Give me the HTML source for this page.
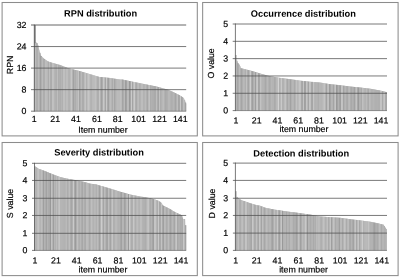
<!DOCTYPE html>
<html><head><meta charset="utf-8"><title>Distributions</title>
<style>
html,body{margin:0;padding:0;background:#fff;overflow:hidden;}
svg{display:block;font-family:"Liberation Sans",Arial,sans-serif;text-rendering:geometricPrecision;}
.t{font-weight:bold;font-size:9.28px;fill:#000;text-anchor:middle;}
.l{font-size:8.8px;fill:#000;stroke:#000;stroke-width:0.18;}
.g{stroke:#6e6e6e;stroke-width:1;fill:none;}
.b{fill:none;stroke:#8c8c8c;stroke-width:1.05;}
</style></head><body>
<svg width="400" height="278" viewBox="0 0 400 278">
<rect x="0" y="0" width="400" height="278" fill="#ffffff"/>

<g>
<rect class="b" x="2.1" y="2.5" width="195.2" height="133.4"/>
<polygon fill="#b4b4b4" points="34.3,111.2 34.3,25.1 35.3,25.1 35.4,42.1 37.5,43.3 39.0,49.7 41.0,55.8 44.0,58.8 48.0,61.4 52.0,62.8 60.0,65.0 69.0,68.4 79.6,71.1 90.2,74.2 99.3,76.9 109.8,77.9 120.0,79.6 122.5,79.6 133.8,81.9 145.0,84.2 156.3,86.5 160.1,87.5 168.1,89.8 173.2,92.1 179.2,95.1 183.2,97.6 184.7,100.1 186.2,104.0 186.2,111.2"/>
<rect x="34.30" y="25.1" width="1.04" height="86.1" fill="rgb(170,170,170)"/><rect x="35.34" y="42.4" width="1.04" height="68.8" fill="rgb(194,194,194)"/><rect x="36.38" y="43.0" width="1.04" height="68.2" fill="rgb(168,168,168)"/><rect x="37.42" y="45.2" width="1.04" height="66.0" fill="rgb(175,175,175)"/><rect x="38.46" y="49.6" width="1.04" height="61.6" fill="rgb(196,196,196)"/><rect x="39.50" y="52.8" width="1.04" height="58.4" fill="rgb(165,165,165)"/><rect x="40.54" y="55.9" width="1.04" height="55.3" fill="rgb(148,148,148)"/><rect x="41.58" y="56.9" width="1.04" height="54.3" fill="rgb(197,197,197)"/><rect x="42.62" y="57.9" width="1.04" height="53.3" fill="rgb(181,181,181)"/><rect x="43.66" y="58.9" width="1.04" height="52.3" fill="rgb(159,159,159)"/><rect x="44.70" y="59.6" width="1.04" height="51.6" fill="rgb(194,194,194)"/><rect x="45.74" y="60.3" width="1.04" height="50.9" fill="rgb(191,191,191)"/><rect x="46.78" y="60.9" width="1.04" height="50.3" fill="rgb(190,190,190)"/><rect x="47.83" y="61.5" width="1.04" height="49.7" fill="rgb(167,167,167)"/><rect x="48.87" y="61.9" width="1.04" height="49.3" fill="rgb(194,194,194)"/><rect x="49.91" y="62.2" width="1.04" height="49.0" fill="rgb(173,173,173)"/><rect x="50.95" y="62.6" width="1.04" height="48.6" fill="rgb(172,172,172)"/><rect x="51.99" y="62.9" width="1.04" height="48.3" fill="rgb(193,193,193)"/><rect x="53.03" y="63.2" width="1.04" height="48.0" fill="rgb(193,193,193)"/><rect x="54.07" y="63.5" width="1.04" height="47.7" fill="rgb(182,182,182)"/><rect x="55.11" y="63.8" width="1.04" height="47.4" fill="rgb(177,177,177)"/><rect x="56.15" y="64.1" width="1.04" height="47.1" fill="rgb(175,175,175)"/><rect x="57.19" y="64.4" width="1.04" height="46.8" fill="rgb(192,192,192)"/><rect x="58.23" y="64.7" width="1.04" height="46.5" fill="rgb(170,170,170)"/><rect x="59.27" y="64.9" width="1.04" height="46.3" fill="rgb(177,177,177)"/><rect x="60.31" y="65.3" width="1.04" height="45.9" fill="rgb(172,172,172)"/><rect x="61.35" y="65.7" width="1.04" height="45.5" fill="rgb(183,183,183)"/><rect x="62.39" y="66.1" width="1.04" height="45.1" fill="rgb(174,174,174)"/><rect x="63.43" y="66.5" width="1.04" height="44.7" fill="rgb(201,201,201)"/><rect x="64.47" y="66.9" width="1.04" height="44.3" fill="rgb(192,192,192)"/><rect x="65.51" y="67.3" width="1.04" height="43.9" fill="rgb(176,176,176)"/><rect x="66.55" y="67.7" width="1.04" height="43.5" fill="rgb(204,204,204)"/><rect x="67.59" y="68.1" width="1.04" height="43.1" fill="rgb(182,182,182)"/><rect x="68.63" y="68.4" width="1.04" height="42.8" fill="rgb(178,178,178)"/><rect x="69.67" y="68.7" width="1.04" height="42.5" fill="rgb(177,177,177)"/><rect x="70.71" y="69.0" width="1.04" height="42.2" fill="rgb(209,209,209)"/><rect x="71.75" y="69.2" width="1.04" height="42.0" fill="rgb(187,187,187)"/><rect x="72.80" y="69.5" width="1.04" height="41.7" fill="rgb(155,155,155)"/><rect x="73.84" y="69.8" width="1.04" height="41.4" fill="rgb(177,177,177)"/><rect x="74.88" y="70.0" width="1.04" height="41.2" fill="rgb(171,171,171)"/><rect x="75.92" y="70.3" width="1.04" height="40.9" fill="rgb(184,184,184)"/><rect x="76.96" y="70.6" width="1.04" height="40.6" fill="rgb(182,182,182)"/><rect x="78.00" y="70.8" width="1.04" height="40.4" fill="rgb(195,195,195)"/><rect x="79.04" y="71.1" width="1.04" height="40.1" fill="rgb(162,162,162)"/><rect x="80.08" y="71.4" width="1.04" height="39.8" fill="rgb(175,175,175)"/><rect x="81.12" y="71.7" width="1.04" height="39.5" fill="rgb(188,188,188)"/><rect x="82.16" y="72.0" width="1.04" height="39.2" fill="rgb(171,171,171)"/><rect x="83.20" y="72.3" width="1.04" height="38.9" fill="rgb(171,171,171)"/><rect x="84.24" y="72.6" width="1.04" height="38.6" fill="rgb(191,191,191)"/><rect x="85.28" y="72.9" width="1.04" height="38.3" fill="rgb(202,202,202)"/><rect x="86.32" y="73.2" width="1.04" height="38.0" fill="rgb(174,174,174)"/><rect x="87.36" y="73.5" width="1.04" height="37.7" fill="rgb(196,196,196)"/><rect x="88.40" y="73.8" width="1.04" height="37.4" fill="rgb(206,206,206)"/><rect x="89.44" y="74.1" width="1.04" height="37.1" fill="rgb(191,191,191)"/><rect x="90.48" y="74.4" width="1.04" height="36.8" fill="rgb(177,177,177)"/><rect x="91.52" y="74.7" width="1.04" height="36.5" fill="rgb(178,178,178)"/><rect x="92.56" y="75.1" width="1.04" height="36.1" fill="rgb(196,196,196)"/><rect x="93.60" y="75.4" width="1.04" height="35.8" fill="rgb(184,184,184)"/><rect x="94.64" y="75.7" width="1.04" height="35.5" fill="rgb(200,200,200)"/><rect x="95.68" y="76.0" width="1.04" height="35.2" fill="rgb(193,193,193)"/><rect x="96.72" y="76.3" width="1.04" height="34.9" fill="rgb(177,177,177)"/><rect x="97.77" y="76.6" width="1.04" height="34.6" fill="rgb(164,164,164)"/><rect x="98.81" y="76.9" width="1.04" height="34.3" fill="rgb(205,205,205)"/><rect x="99.85" y="77.0" width="1.04" height="34.2" fill="rgb(180,180,180)"/><rect x="100.89" y="77.1" width="1.04" height="34.1" fill="rgb(160,160,160)"/><rect x="101.93" y="77.2" width="1.04" height="34.0" fill="rgb(172,172,172)"/><rect x="102.97" y="77.3" width="1.04" height="33.9" fill="rgb(200,200,200)"/><rect x="104.01" y="77.4" width="1.04" height="33.8" fill="rgb(186,186,186)"/><rect x="105.05" y="77.5" width="1.04" height="33.7" fill="rgb(164,164,164)"/><rect x="106.09" y="77.6" width="1.04" height="33.6" fill="rgb(203,203,203)"/><rect x="107.13" y="77.7" width="1.04" height="33.5" fill="rgb(169,169,169)"/><rect x="108.17" y="77.8" width="1.04" height="33.4" fill="rgb(157,157,157)"/><rect x="109.21" y="77.9" width="1.04" height="33.3" fill="rgb(183,183,183)"/><rect x="110.25" y="78.1" width="1.04" height="33.1" fill="rgb(192,192,192)"/><rect x="111.29" y="78.2" width="1.04" height="33.0" fill="rgb(181,181,181)"/><rect x="112.33" y="78.4" width="1.04" height="32.8" fill="rgb(167,167,167)"/><rect x="113.37" y="78.6" width="1.04" height="32.6" fill="rgb(194,194,194)"/><rect x="114.41" y="78.8" width="1.04" height="32.4" fill="rgb(152,152,152)"/><rect x="115.45" y="78.9" width="1.04" height="32.3" fill="rgb(183,183,183)"/><rect x="116.49" y="79.1" width="1.04" height="32.1" fill="rgb(186,186,186)"/><rect x="117.53" y="79.3" width="1.04" height="31.9" fill="rgb(192,192,192)"/><rect x="118.57" y="79.4" width="1.04" height="31.8" fill="rgb(186,186,186)"/><rect x="119.61" y="79.6" width="1.04" height="31.6" fill="rgb(188,188,188)"/><rect x="120.65" y="79.6" width="1.04" height="31.6" fill="rgb(205,205,205)"/><rect x="121.69" y="79.6" width="1.04" height="31.6" fill="rgb(160,160,160)"/><rect x="122.73" y="79.8" width="1.04" height="31.4" fill="rgb(163,163,163)"/><rect x="123.78" y="80.0" width="1.04" height="31.2" fill="rgb(196,196,196)"/><rect x="124.82" y="80.2" width="1.04" height="31.0" fill="rgb(155,155,155)"/><rect x="125.86" y="80.4" width="1.04" height="30.8" fill="rgb(159,159,159)"/><rect x="126.90" y="80.6" width="1.04" height="30.6" fill="rgb(188,188,188)"/><rect x="127.94" y="80.8" width="1.04" height="30.4" fill="rgb(186,186,186)"/><rect x="128.98" y="81.0" width="1.04" height="30.2" fill="rgb(153,153,153)"/><rect x="130.02" y="81.2" width="1.04" height="30.0" fill="rgb(167,167,167)"/><rect x="131.06" y="81.4" width="1.04" height="29.8" fill="rgb(204,204,204)"/><rect x="132.10" y="81.7" width="1.04" height="29.5" fill="rgb(162,162,162)"/><rect x="133.14" y="81.9" width="1.04" height="29.3" fill="rgb(192,192,192)"/><rect x="134.18" y="82.1" width="1.04" height="29.1" fill="rgb(208,208,208)"/><rect x="135.22" y="82.3" width="1.04" height="28.9" fill="rgb(172,172,172)"/><rect x="136.26" y="82.5" width="1.04" height="28.7" fill="rgb(166,166,166)"/><rect x="137.30" y="82.7" width="1.04" height="28.5" fill="rgb(189,189,189)"/><rect x="138.34" y="82.9" width="1.04" height="28.3" fill="rgb(192,192,192)"/><rect x="139.38" y="83.2" width="1.04" height="28.0" fill="rgb(171,171,171)"/><rect x="140.42" y="83.4" width="1.04" height="27.8" fill="rgb(182,182,182)"/><rect x="141.46" y="83.6" width="1.04" height="27.6" fill="rgb(197,197,197)"/><rect x="142.50" y="83.8" width="1.04" height="27.4" fill="rgb(189,189,189)"/><rect x="143.54" y="84.0" width="1.04" height="27.2" fill="rgb(171,171,171)"/><rect x="144.58" y="84.2" width="1.04" height="27.0" fill="rgb(189,189,189)"/><rect x="145.62" y="84.4" width="1.04" height="26.8" fill="rgb(190,190,190)"/><rect x="146.66" y="84.6" width="1.04" height="26.6" fill="rgb(157,157,157)"/><rect x="147.70" y="84.9" width="1.04" height="26.3" fill="rgb(177,177,177)"/><rect x="148.75" y="85.1" width="1.04" height="26.1" fill="rgb(208,208,208)"/><rect x="149.79" y="85.3" width="1.04" height="25.9" fill="rgb(170,170,170)"/><rect x="150.83" y="85.5" width="1.04" height="25.7" fill="rgb(177,177,177)"/><rect x="151.87" y="85.7" width="1.04" height="25.5" fill="rgb(174,174,174)"/><rect x="152.91" y="85.9" width="1.04" height="25.3" fill="rgb(174,174,174)"/><rect x="153.95" y="86.1" width="1.04" height="25.1" fill="rgb(171,171,171)"/><rect x="154.99" y="86.3" width="1.04" height="24.9" fill="rgb(170,170,170)"/><rect x="156.03" y="86.6" width="1.04" height="24.6" fill="rgb(191,191,191)"/><rect x="157.07" y="86.8" width="1.04" height="24.4" fill="rgb(172,172,172)"/><rect x="158.11" y="87.1" width="1.04" height="24.1" fill="rgb(163,163,163)"/><rect x="159.15" y="87.4" width="1.04" height="23.8" fill="rgb(197,197,197)"/><rect x="160.19" y="87.7" width="1.04" height="23.5" fill="rgb(171,171,171)"/><rect x="161.23" y="88.0" width="1.04" height="23.2" fill="rgb(178,178,178)"/><rect x="162.27" y="88.3" width="1.04" height="22.9" fill="rgb(186,186,186)"/><rect x="163.31" y="88.6" width="1.04" height="22.6" fill="rgb(190,190,190)"/><rect x="164.35" y="88.9" width="1.04" height="22.3" fill="rgb(176,176,176)"/><rect x="165.39" y="89.2" width="1.04" height="22.0" fill="rgb(166,166,166)"/><rect x="166.43" y="89.5" width="1.04" height="21.7" fill="rgb(173,173,173)"/><rect x="167.47" y="89.8" width="1.04" height="21.4" fill="rgb(176,176,176)"/><rect x="168.51" y="90.2" width="1.04" height="21.0" fill="rgb(192,192,192)"/><rect x="169.55" y="90.7" width="1.04" height="20.5" fill="rgb(183,183,183)"/><rect x="170.59" y="91.2" width="1.04" height="20.0" fill="rgb(175,175,175)"/><rect x="171.63" y="91.6" width="1.04" height="19.6" fill="rgb(171,171,171)"/><rect x="172.67" y="92.1" width="1.04" height="19.1" fill="rgb(181,181,181)"/><rect x="173.72" y="92.6" width="1.04" height="18.6" fill="rgb(181,181,181)"/><rect x="174.76" y="93.1" width="1.04" height="18.1" fill="rgb(160,160,160)"/><rect x="175.80" y="93.7" width="1.04" height="17.5" fill="rgb(175,175,175)"/><rect x="176.84" y="94.2" width="1.04" height="17.0" fill="rgb(196,196,196)"/><rect x="177.88" y="94.7" width="1.04" height="16.5" fill="rgb(165,165,165)"/><rect x="178.92" y="95.2" width="1.04" height="16.0" fill="rgb(166,166,166)"/><rect x="179.96" y="95.9" width="1.04" height="15.3" fill="rgb(201,201,201)"/><rect x="181.00" y="96.5" width="1.04" height="14.7" fill="rgb(164,164,164)"/><rect x="182.04" y="97.2" width="1.04" height="14.0" fill="rgb(169,169,169)"/><rect x="183.08" y="98.3" width="1.04" height="12.9" fill="rgb(193,193,193)"/><rect x="184.12" y="100.0" width="1.04" height="11.2" fill="rgb(183,183,183)"/><rect x="185.16" y="102.6" width="1.04" height="8.6" fill="rgb(159,159,159)"/>
<rect x="34.6" y="25.2" width="1.0" height="18" fill="#858585"/>
<line x1="31.0" y1="25.00" x2="186.2" y2="25.00" stroke="#4d4d4d" stroke-width="1" opacity="0.85"/>
<line x1="31.0" y1="46.55" x2="186.2" y2="46.55" stroke="#4d4d4d" stroke-width="1" opacity="0.75"/>
<line x1="31.0" y1="68.10" x2="186.2" y2="68.10" stroke="#4d4d4d" stroke-width="1" opacity="0.75"/>
<line x1="31.0" y1="89.65" x2="186.2" y2="89.65" stroke="#4d4d4d" stroke-width="1" opacity="0.75"/>
<line x1="31.0" y1="111.20" x2="34.3" y2="111.20" stroke="#4d4d4d" stroke-width="1" opacity="0.72"/>
<line x1="34.3" y1="111.20" x2="186.2" y2="111.20" stroke="#4d4d4d" stroke-width="1" opacity="0.5"/>
<line x1="34.3" y1="24.5" x2="34.3" y2="111.7" stroke="#4d4d4d" stroke-width="1" opacity="0.75"/>
<text class="l" text-anchor="middle" transform="translate(12.6,64.9) rotate(-90)">RPN</text>
</g>
<g>
<rect class="b" x="202.65" y="2.5" width="195.45" height="133.4"/>
<polygon fill="#b4b4b4" points="235.4,110.6 235.4,55.1 236.6,55.1 236.7,60.1 238.0,63.1 239.7,65.2 241.0,68.2 245.0,69.2 250.2,70.6 256.2,72.2 260.2,73.6 266.3,75.2 270.3,76.2 280.4,77.9 290.5,79.3 300.6,80.7 310.0,81.7 320.0,82.6 330.2,84.2 340.2,85.2 350.3,86.6 360.4,87.6 370.5,88.8 378.5,90.2 383.6,91.2 386.8,92.3 386.8,110.6"/>
<rect x="235.40" y="55.1" width="1.04" height="55.5" fill="rgb(202,202,202)"/><rect x="236.44" y="60.7" width="1.04" height="49.9" fill="rgb(173,173,173)"/><rect x="237.48" y="63.1" width="1.04" height="47.5" fill="rgb(155,155,155)"/><rect x="238.52" y="64.4" width="1.04" height="46.2" fill="rgb(180,180,180)"/><rect x="239.55" y="66.1" width="1.04" height="44.5" fill="rgb(198,198,198)"/><rect x="240.59" y="68.2" width="1.04" height="42.4" fill="rgb(155,155,155)"/><rect x="241.63" y="68.5" width="1.04" height="42.1" fill="rgb(167,167,167)"/><rect x="242.67" y="68.7" width="1.04" height="41.9" fill="rgb(186,186,186)"/><rect x="243.71" y="69.0" width="1.04" height="41.6" fill="rgb(191,191,191)"/><rect x="244.75" y="69.3" width="1.04" height="41.3" fill="rgb(165,165,165)"/><rect x="245.78" y="69.6" width="1.04" height="41.0" fill="rgb(201,201,201)"/><rect x="246.82" y="69.8" width="1.04" height="40.8" fill="rgb(175,175,175)"/><rect x="247.86" y="70.1" width="1.04" height="40.5" fill="rgb(161,161,161)"/><rect x="248.90" y="70.4" width="1.04" height="40.2" fill="rgb(184,184,184)"/><rect x="249.94" y="70.7" width="1.04" height="39.9" fill="rgb(207,207,207)"/><rect x="250.98" y="70.9" width="1.04" height="39.7" fill="rgb(172,172,172)"/><rect x="252.01" y="71.2" width="1.04" height="39.4" fill="rgb(159,159,159)"/><rect x="253.05" y="71.5" width="1.04" height="39.1" fill="rgb(176,176,176)"/><rect x="254.09" y="71.8" width="1.04" height="38.8" fill="rgb(184,184,184)"/><rect x="255.13" y="72.1" width="1.04" height="38.5" fill="rgb(155,155,155)"/><rect x="256.17" y="72.4" width="1.04" height="38.2" fill="rgb(195,195,195)"/><rect x="257.21" y="72.7" width="1.04" height="37.9" fill="rgb(204,204,204)"/><rect x="258.24" y="73.1" width="1.04" height="37.5" fill="rgb(158,158,158)"/><rect x="259.28" y="73.5" width="1.04" height="37.1" fill="rgb(165,165,165)"/><rect x="260.32" y="73.8" width="1.04" height="36.8" fill="rgb(204,204,204)"/><rect x="261.36" y="74.0" width="1.04" height="36.6" fill="rgb(184,184,184)"/><rect x="262.40" y="74.3" width="1.04" height="36.3" fill="rgb(179,179,179)"/><rect x="263.44" y="74.6" width="1.04" height="36.0" fill="rgb(181,181,181)"/><rect x="264.47" y="74.9" width="1.04" height="35.7" fill="rgb(173,173,173)"/><rect x="265.51" y="75.1" width="1.04" height="35.5" fill="rgb(160,160,160)"/><rect x="266.55" y="75.4" width="1.04" height="35.2" fill="rgb(189,189,189)"/><rect x="267.59" y="75.7" width="1.04" height="34.9" fill="rgb(184,184,184)"/><rect x="268.63" y="75.9" width="1.04" height="34.7" fill="rgb(168,168,168)"/><rect x="269.67" y="76.2" width="1.04" height="34.4" fill="rgb(167,167,167)"/><rect x="270.70" y="76.4" width="1.04" height="34.2" fill="rgb(187,187,187)"/><rect x="271.74" y="76.6" width="1.04" height="34.0" fill="rgb(180,180,180)"/><rect x="272.78" y="76.7" width="1.04" height="33.9" fill="rgb(182,182,182)"/><rect x="273.82" y="76.9" width="1.04" height="33.7" fill="rgb(170,170,170)"/><rect x="274.86" y="77.1" width="1.04" height="33.5" fill="rgb(172,172,172)"/><rect x="275.90" y="77.2" width="1.04" height="33.4" fill="rgb(187,187,187)"/><rect x="276.93" y="77.4" width="1.04" height="33.2" fill="rgb(188,188,188)"/><rect x="277.97" y="77.6" width="1.04" height="33.0" fill="rgb(211,211,211)"/><rect x="279.01" y="77.8" width="1.04" height="32.8" fill="rgb(176,176,176)"/><rect x="280.05" y="77.9" width="1.04" height="32.7" fill="rgb(184,184,184)"/><rect x="281.09" y="78.1" width="1.04" height="32.5" fill="rgb(203,203,203)"/><rect x="282.13" y="78.2" width="1.04" height="32.4" fill="rgb(177,177,177)"/><rect x="283.16" y="78.4" width="1.04" height="32.2" fill="rgb(177,177,177)"/><rect x="284.20" y="78.5" width="1.04" height="32.1" fill="rgb(191,191,191)"/><rect x="285.24" y="78.6" width="1.04" height="32.0" fill="rgb(199,199,199)"/><rect x="286.28" y="78.8" width="1.04" height="31.8" fill="rgb(175,175,175)"/><rect x="287.32" y="78.9" width="1.04" height="31.7" fill="rgb(162,162,162)"/><rect x="288.36" y="79.1" width="1.04" height="31.5" fill="rgb(184,184,184)"/><rect x="289.39" y="79.2" width="1.04" height="31.4" fill="rgb(173,173,173)"/><rect x="290.43" y="79.4" width="1.04" height="31.2" fill="rgb(150,150,150)"/><rect x="291.47" y="79.5" width="1.04" height="31.1" fill="rgb(186,186,186)"/><rect x="292.51" y="79.7" width="1.04" height="30.9" fill="rgb(183,183,183)"/><rect x="293.55" y="79.8" width="1.04" height="30.8" fill="rgb(182,182,182)"/><rect x="294.59" y="79.9" width="1.04" height="30.7" fill="rgb(156,156,156)"/><rect x="295.62" y="80.1" width="1.04" height="30.5" fill="rgb(208,208,208)"/><rect x="296.66" y="80.2" width="1.04" height="30.4" fill="rgb(186,186,186)"/><rect x="297.70" y="80.4" width="1.04" height="30.2" fill="rgb(183,183,183)"/><rect x="298.74" y="80.5" width="1.04" height="30.1" fill="rgb(202,202,202)"/><rect x="299.78" y="80.7" width="1.04" height="29.9" fill="rgb(203,203,203)"/><rect x="300.82" y="80.8" width="1.04" height="29.8" fill="rgb(170,170,170)"/><rect x="301.85" y="80.9" width="1.04" height="29.7" fill="rgb(160,160,160)"/><rect x="302.89" y="81.0" width="1.04" height="29.6" fill="rgb(202,202,202)"/><rect x="303.93" y="81.1" width="1.04" height="29.5" fill="rgb(161,161,161)"/><rect x="304.97" y="81.2" width="1.04" height="29.4" fill="rgb(162,162,162)"/><rect x="306.01" y="81.3" width="1.04" height="29.3" fill="rgb(197,197,197)"/><rect x="307.05" y="81.4" width="1.04" height="29.2" fill="rgb(184,184,184)"/><rect x="308.08" y="81.6" width="1.04" height="29.0" fill="rgb(163,163,163)"/><rect x="309.12" y="81.7" width="1.04" height="28.9" fill="rgb(200,200,200)"/><rect x="310.16" y="81.8" width="1.04" height="28.8" fill="rgb(195,195,195)"/><rect x="311.20" y="81.9" width="1.04" height="28.7" fill="rgb(164,164,164)"/><rect x="312.24" y="81.9" width="1.04" height="28.7" fill="rgb(164,164,164)"/><rect x="313.28" y="82.0" width="1.04" height="28.6" fill="rgb(206,206,206)"/><rect x="314.32" y="82.1" width="1.04" height="28.5" fill="rgb(178,178,178)"/><rect x="315.35" y="82.2" width="1.04" height="28.4" fill="rgb(178,178,178)"/><rect x="316.39" y="82.3" width="1.04" height="28.3" fill="rgb(182,182,182)"/><rect x="317.43" y="82.4" width="1.04" height="28.2" fill="rgb(176,176,176)"/><rect x="318.47" y="82.5" width="1.04" height="28.1" fill="rgb(169,169,169)"/><rect x="319.51" y="82.6" width="1.04" height="28.0" fill="rgb(190,190,190)"/><rect x="320.55" y="82.8" width="1.04" height="27.8" fill="rgb(180,180,180)"/><rect x="321.58" y="82.9" width="1.04" height="27.7" fill="rgb(185,185,185)"/><rect x="322.62" y="83.1" width="1.04" height="27.5" fill="rgb(186,186,186)"/><rect x="323.66" y="83.3" width="1.04" height="27.3" fill="rgb(202,202,202)"/><rect x="324.70" y="83.4" width="1.04" height="27.2" fill="rgb(196,196,196)"/><rect x="325.74" y="83.6" width="1.04" height="27.0" fill="rgb(148,148,148)"/><rect x="326.78" y="83.7" width="1.04" height="26.9" fill="rgb(188,188,188)"/><rect x="327.81" y="83.9" width="1.04" height="26.7" fill="rgb(204,204,204)"/><rect x="328.85" y="84.1" width="1.04" height="26.5" fill="rgb(153,153,153)"/><rect x="329.89" y="84.2" width="1.04" height="26.4" fill="rgb(165,165,165)"/><rect x="330.93" y="84.3" width="1.04" height="26.3" fill="rgb(183,183,183)"/><rect x="331.97" y="84.4" width="1.04" height="26.2" fill="rgb(180,180,180)"/><rect x="333.01" y="84.5" width="1.04" height="26.1" fill="rgb(164,164,164)"/><rect x="334.04" y="84.6" width="1.04" height="26.0" fill="rgb(186,186,186)"/><rect x="335.08" y="84.7" width="1.04" height="25.9" fill="rgb(198,198,198)"/><rect x="336.12" y="84.8" width="1.04" height="25.8" fill="rgb(149,149,149)"/><rect x="337.16" y="84.9" width="1.04" height="25.7" fill="rgb(161,161,161)"/><rect x="338.20" y="85.1" width="1.04" height="25.5" fill="rgb(178,178,178)"/><rect x="339.24" y="85.2" width="1.04" height="25.4" fill="rgb(160,160,160)"/><rect x="340.27" y="85.3" width="1.04" height="25.3" fill="rgb(153,153,153)"/><rect x="341.31" y="85.4" width="1.04" height="25.2" fill="rgb(208,208,208)"/><rect x="342.35" y="85.6" width="1.04" height="25.0" fill="rgb(197,197,197)"/><rect x="343.39" y="85.7" width="1.04" height="24.9" fill="rgb(151,151,151)"/><rect x="344.43" y="85.9" width="1.04" height="24.7" fill="rgb(183,183,183)"/><rect x="345.47" y="86.0" width="1.04" height="24.6" fill="rgb(184,184,184)"/><rect x="346.50" y="86.1" width="1.04" height="24.5" fill="rgb(163,163,163)"/><rect x="347.54" y="86.3" width="1.04" height="24.3" fill="rgb(168,168,168)"/><rect x="348.58" y="86.4" width="1.04" height="24.2" fill="rgb(198,198,198)"/><rect x="349.62" y="86.6" width="1.04" height="24.0" fill="rgb(182,182,182)"/><rect x="350.66" y="86.7" width="1.04" height="23.9" fill="rgb(162,162,162)"/><rect x="351.70" y="86.8" width="1.04" height="23.8" fill="rgb(175,175,175)"/><rect x="352.73" y="86.9" width="1.04" height="23.7" fill="rgb(181,181,181)"/><rect x="353.77" y="87.0" width="1.04" height="23.6" fill="rgb(153,153,153)"/><rect x="354.81" y="87.1" width="1.04" height="23.5" fill="rgb(180,180,180)"/><rect x="355.85" y="87.2" width="1.04" height="23.4" fill="rgb(201,201,201)"/><rect x="356.89" y="87.3" width="1.04" height="23.3" fill="rgb(169,169,169)"/><rect x="357.93" y="87.4" width="1.04" height="23.2" fill="rgb(154,154,154)"/><rect x="358.96" y="87.5" width="1.04" height="23.1" fill="rgb(178,178,178)"/><rect x="360.00" y="87.6" width="1.04" height="23.0" fill="rgb(178,178,178)"/><rect x="361.04" y="87.7" width="1.04" height="22.9" fill="rgb(170,170,170)"/><rect x="362.08" y="87.9" width="1.04" height="22.7" fill="rgb(194,194,194)"/><rect x="363.12" y="88.0" width="1.04" height="22.6" fill="rgb(186,186,186)"/><rect x="364.16" y="88.1" width="1.04" height="22.5" fill="rgb(181,181,181)"/><rect x="365.19" y="88.2" width="1.04" height="22.4" fill="rgb(178,178,178)"/><rect x="366.23" y="88.4" width="1.04" height="22.2" fill="rgb(190,190,190)"/><rect x="367.27" y="88.5" width="1.04" height="22.1" fill="rgb(174,174,174)"/><rect x="368.31" y="88.6" width="1.04" height="22.0" fill="rgb(167,167,167)"/><rect x="369.35" y="88.7" width="1.04" height="21.9" fill="rgb(195,195,195)"/><rect x="370.39" y="88.9" width="1.04" height="21.7" fill="rgb(184,184,184)"/><rect x="371.42" y="89.1" width="1.04" height="21.5" fill="rgb(175,175,175)"/><rect x="372.46" y="89.2" width="1.04" height="21.4" fill="rgb(177,177,177)"/><rect x="373.50" y="89.4" width="1.04" height="21.2" fill="rgb(183,183,183)"/><rect x="374.54" y="89.6" width="1.04" height="21.0" fill="rgb(175,175,175)"/><rect x="375.58" y="89.8" width="1.04" height="20.8" fill="rgb(177,177,177)"/><rect x="376.62" y="90.0" width="1.04" height="20.6" fill="rgb(174,174,174)"/><rect x="377.65" y="90.1" width="1.04" height="20.5" fill="rgb(180,180,180)"/><rect x="378.69" y="90.3" width="1.04" height="20.3" fill="rgb(164,164,164)"/><rect x="379.73" y="90.6" width="1.04" height="20.0" fill="rgb(197,197,197)"/><rect x="380.77" y="90.8" width="1.04" height="19.8" fill="rgb(207,207,207)"/><rect x="381.81" y="91.0" width="1.04" height="19.6" fill="rgb(165,165,165)"/><rect x="382.85" y="91.2" width="1.04" height="19.4" fill="rgb(189,189,189)"/><rect x="383.88" y="91.5" width="1.04" height="19.1" fill="rgb(203,203,203)"/><rect x="384.92" y="91.9" width="1.04" height="18.7" fill="rgb(169,169,169)"/><rect x="385.96" y="92.2" width="1.04" height="18.4" fill="rgb(166,166,166)"/>
<line x1="232.7" y1="24.00" x2="387.0" y2="24.00" stroke="#4d4d4d" stroke-width="1" opacity="0.75"/>
<line x1="232.7" y1="41.32" x2="387.0" y2="41.32" stroke="#4d4d4d" stroke-width="1" opacity="0.75"/>
<line x1="232.7" y1="58.64" x2="387.0" y2="58.64" stroke="#4d4d4d" stroke-width="1" opacity="0.75"/>
<line x1="232.7" y1="75.96" x2="387.0" y2="75.96" stroke="#4d4d4d" stroke-width="1" opacity="0.75"/>
<line x1="232.7" y1="93.28" x2="387.0" y2="93.28" stroke="#4d4d4d" stroke-width="1" opacity="0.75"/>
<line x1="232.7" y1="110.60" x2="235.4" y2="110.60" stroke="#4d4d4d" stroke-width="1" opacity="0.72"/>
<line x1="235.4" y1="110.60" x2="387.0" y2="110.60" stroke="#4d4d4d" stroke-width="1" opacity="0.5"/>
<line x1="235.4" y1="23.5" x2="235.4" y2="111.1" stroke="#4d4d4d" stroke-width="1" opacity="0.75"/>
<text class="l" text-anchor="middle" transform="translate(214.3,63.4) rotate(-90)">O value</text>
</g>
<g>
<rect class="b" x="2.1" y="142.5" width="195.2" height="133.1"/>
<polygon fill="#b4b4b4" points="34.5,250.4 34.5,166.5 35.5,166.5 38.0,168.6 42.1,170.0 46.1,171.6 50.2,173.2 55.2,175.2 60.2,177.1 65.3,178.3 70.3,179.3 75.4,180.1 80.4,181.1 85.4,182.3 90.5,183.7 95.5,184.3 100.6,185.8 105.6,187.2 110.0,188.5 115.0,190.1 120.1,191.7 125.1,193.1 130.2,194.6 135.2,195.6 140.2,196.6 145.3,197.2 150.3,198.2 155.0,199.5 159.0,201.0 161.0,202.6 163.1,205.6 167.1,207.6 170.1,209.1 173.1,211.1 176.4,212.8 180.2,214.5 182.4,215.5 182.7,219.1 185.0,219.1 185.2,225.2 186.2,225.2 186.2,250.4"/>
<rect x="34.50" y="166.5" width="1.04" height="83.9" fill="rgb(177,177,177)"/><rect x="35.54" y="167.0" width="1.04" height="83.4" fill="rgb(183,183,183)"/><rect x="36.58" y="167.8" width="1.04" height="82.6" fill="rgb(178,178,178)"/><rect x="37.62" y="168.6" width="1.04" height="81.8" fill="rgb(207,207,207)"/><rect x="38.66" y="169.0" width="1.04" height="81.4" fill="rgb(191,191,191)"/><rect x="39.70" y="169.4" width="1.04" height="81.0" fill="rgb(173,173,173)"/><rect x="40.73" y="169.7" width="1.04" height="80.7" fill="rgb(195,195,195)"/><rect x="41.77" y="170.1" width="1.04" height="80.3" fill="rgb(191,191,191)"/><rect x="42.81" y="170.5" width="1.04" height="79.9" fill="rgb(153,153,153)"/><rect x="43.85" y="170.9" width="1.04" height="79.5" fill="rgb(180,180,180)"/><rect x="44.89" y="171.3" width="1.04" height="79.1" fill="rgb(174,174,174)"/><rect x="45.93" y="171.7" width="1.04" height="78.7" fill="rgb(162,162,162)"/><rect x="46.97" y="172.1" width="1.04" height="78.3" fill="rgb(179,179,179)"/><rect x="48.01" y="172.5" width="1.04" height="77.9" fill="rgb(172,172,172)"/><rect x="49.05" y="173.0" width="1.04" height="77.4" fill="rgb(169,169,169)"/><rect x="50.09" y="173.4" width="1.04" height="77.0" fill="rgb(151,151,151)"/><rect x="51.12" y="173.8" width="1.04" height="76.6" fill="rgb(196,196,196)"/><rect x="52.16" y="174.2" width="1.04" height="76.2" fill="rgb(179,179,179)"/><rect x="53.20" y="174.6" width="1.04" height="75.8" fill="rgb(153,153,153)"/><rect x="54.24" y="175.0" width="1.04" height="75.4" fill="rgb(185,185,185)"/><rect x="55.28" y="175.4" width="1.04" height="75.0" fill="rgb(177,177,177)"/><rect x="56.32" y="175.8" width="1.04" height="74.6" fill="rgb(193,193,193)"/><rect x="57.36" y="176.2" width="1.04" height="74.2" fill="rgb(173,173,173)"/><rect x="58.40" y="176.6" width="1.04" height="73.8" fill="rgb(199,199,199)"/><rect x="59.44" y="177.0" width="1.04" height="73.4" fill="rgb(206,206,206)"/><rect x="60.48" y="177.3" width="1.04" height="73.1" fill="rgb(171,171,171)"/><rect x="61.52" y="177.5" width="1.04" height="72.9" fill="rgb(188,188,188)"/><rect x="62.55" y="177.8" width="1.04" height="72.6" fill="rgb(175,175,175)"/><rect x="63.59" y="178.0" width="1.04" height="72.4" fill="rgb(185,185,185)"/><rect x="64.63" y="178.3" width="1.04" height="72.1" fill="rgb(169,169,169)"/><rect x="65.67" y="178.5" width="1.04" height="71.9" fill="rgb(198,198,198)"/><rect x="66.71" y="178.7" width="1.04" height="71.7" fill="rgb(170,170,170)"/><rect x="67.75" y="178.9" width="1.04" height="71.5" fill="rgb(176,176,176)"/><rect x="68.79" y="179.1" width="1.04" height="71.3" fill="rgb(198,198,198)"/><rect x="69.83" y="179.3" width="1.04" height="71.1" fill="rgb(175,175,175)"/><rect x="70.87" y="179.5" width="1.04" height="70.9" fill="rgb(164,164,164)"/><rect x="71.91" y="179.6" width="1.04" height="70.8" fill="rgb(175,175,175)"/><rect x="72.94" y="179.8" width="1.04" height="70.6" fill="rgb(204,204,204)"/><rect x="73.98" y="180.0" width="1.04" height="70.4" fill="rgb(170,170,170)"/><rect x="75.02" y="180.1" width="1.04" height="70.3" fill="rgb(155,155,155)"/><rect x="76.06" y="180.3" width="1.04" height="70.1" fill="rgb(176,176,176)"/><rect x="77.10" y="180.5" width="1.04" height="69.9" fill="rgb(193,193,193)"/><rect x="78.14" y="180.8" width="1.04" height="69.6" fill="rgb(178,178,178)"/><rect x="79.18" y="181.0" width="1.04" height="69.4" fill="rgb(173,173,173)"/><rect x="80.22" y="181.2" width="1.04" height="69.2" fill="rgb(187,187,187)"/><rect x="81.26" y="181.4" width="1.04" height="69.0" fill="rgb(171,171,171)"/><rect x="82.30" y="181.7" width="1.04" height="68.7" fill="rgb(163,163,163)"/><rect x="83.33" y="181.9" width="1.04" height="68.5" fill="rgb(187,187,187)"/><rect x="84.37" y="182.2" width="1.04" height="68.2" fill="rgb(169,169,169)"/><rect x="85.41" y="182.4" width="1.04" height="68.0" fill="rgb(167,167,167)"/><rect x="86.45" y="182.7" width="1.04" height="67.7" fill="rgb(199,199,199)"/><rect x="87.49" y="183.0" width="1.04" height="67.4" fill="rgb(188,188,188)"/><rect x="88.53" y="183.3" width="1.04" height="67.1" fill="rgb(180,180,180)"/><rect x="89.57" y="183.6" width="1.04" height="66.8" fill="rgb(159,159,159)"/><rect x="90.61" y="183.8" width="1.04" height="66.6" fill="rgb(199,199,199)"/><rect x="91.65" y="183.9" width="1.04" height="66.5" fill="rgb(190,190,190)"/><rect x="92.69" y="184.0" width="1.04" height="66.4" fill="rgb(173,173,173)"/><rect x="93.73" y="184.1" width="1.04" height="66.3" fill="rgb(187,187,187)"/><rect x="94.76" y="184.3" width="1.04" height="66.1" fill="rgb(188,188,188)"/><rect x="95.80" y="184.5" width="1.04" height="65.9" fill="rgb(173,173,173)"/><rect x="96.84" y="184.8" width="1.04" height="65.6" fill="rgb(192,192,192)"/><rect x="97.88" y="185.2" width="1.04" height="65.2" fill="rgb(179,179,179)"/><rect x="98.92" y="185.5" width="1.04" height="64.9" fill="rgb(160,160,160)"/><rect x="99.96" y="185.8" width="1.04" height="64.6" fill="rgb(178,178,178)"/><rect x="101.00" y="186.1" width="1.04" height="64.3" fill="rgb(205,205,205)"/><rect x="102.04" y="186.3" width="1.04" height="64.1" fill="rgb(185,185,185)"/><rect x="103.08" y="186.6" width="1.04" height="63.8" fill="rgb(164,164,164)"/><rect x="104.12" y="186.9" width="1.04" height="63.5" fill="rgb(190,190,190)"/><rect x="105.15" y="187.2" width="1.04" height="63.2" fill="rgb(179,179,179)"/><rect x="106.19" y="187.5" width="1.04" height="62.9" fill="rgb(162,162,162)"/><rect x="107.23" y="187.8" width="1.04" height="62.6" fill="rgb(161,161,161)"/><rect x="108.27" y="188.1" width="1.04" height="62.3" fill="rgb(195,195,195)"/><rect x="109.31" y="188.4" width="1.04" height="62.0" fill="rgb(173,173,173)"/><rect x="110.35" y="188.8" width="1.04" height="61.6" fill="rgb(157,157,157)"/><rect x="111.39" y="189.1" width="1.04" height="61.3" fill="rgb(193,193,193)"/><rect x="112.43" y="189.4" width="1.04" height="61.0" fill="rgb(206,206,206)"/><rect x="113.47" y="189.8" width="1.04" height="60.6" fill="rgb(160,160,160)"/><rect x="114.51" y="190.1" width="1.04" height="60.3" fill="rgb(184,184,184)"/><rect x="115.55" y="190.4" width="1.04" height="60.0" fill="rgb(189,189,189)"/><rect x="116.58" y="190.8" width="1.04" height="59.6" fill="rgb(189,189,189)"/><rect x="117.62" y="191.1" width="1.04" height="59.3" fill="rgb(172,172,172)"/><rect x="118.66" y="191.4" width="1.04" height="59.0" fill="rgb(181,181,181)"/><rect x="119.70" y="191.7" width="1.04" height="58.7" fill="rgb(174,174,174)"/><rect x="120.74" y="192.0" width="1.04" height="58.4" fill="rgb(148,148,148)"/><rect x="121.78" y="192.3" width="1.04" height="58.1" fill="rgb(181,181,181)"/><rect x="122.82" y="192.6" width="1.04" height="57.8" fill="rgb(187,187,187)"/><rect x="123.86" y="192.9" width="1.04" height="57.5" fill="rgb(159,159,159)"/><rect x="124.90" y="193.2" width="1.04" height="57.2" fill="rgb(167,167,167)"/><rect x="125.94" y="193.5" width="1.04" height="56.9" fill="rgb(185,185,185)"/><rect x="126.97" y="193.8" width="1.04" height="56.6" fill="rgb(190,190,190)"/><rect x="128.01" y="194.1" width="1.04" height="56.3" fill="rgb(153,153,153)"/><rect x="129.05" y="194.4" width="1.04" height="56.0" fill="rgb(205,205,205)"/><rect x="130.09" y="194.7" width="1.04" height="55.7" fill="rgb(188,188,188)"/><rect x="131.13" y="194.9" width="1.04" height="55.5" fill="rgb(172,172,172)"/><rect x="132.17" y="195.1" width="1.04" height="55.3" fill="rgb(175,175,175)"/><rect x="133.21" y="195.3" width="1.04" height="55.1" fill="rgb(205,205,205)"/><rect x="134.25" y="195.5" width="1.04" height="54.9" fill="rgb(187,187,187)"/><rect x="135.29" y="195.7" width="1.04" height="54.7" fill="rgb(171,171,171)"/><rect x="136.33" y="195.9" width="1.04" height="54.5" fill="rgb(189,189,189)"/><rect x="137.37" y="196.1" width="1.04" height="54.3" fill="rgb(193,193,193)"/><rect x="138.40" y="196.3" width="1.04" height="54.1" fill="rgb(180,180,180)"/><rect x="139.44" y="196.6" width="1.04" height="53.8" fill="rgb(178,178,178)"/><rect x="140.48" y="196.7" width="1.04" height="53.7" fill="rgb(200,200,200)"/><rect x="141.52" y="196.8" width="1.04" height="53.6" fill="rgb(189,189,189)"/><rect x="142.56" y="196.9" width="1.04" height="53.5" fill="rgb(171,171,171)"/><rect x="143.60" y="197.1" width="1.04" height="53.3" fill="rgb(182,182,182)"/><rect x="144.64" y="197.2" width="1.04" height="53.2" fill="rgb(170,170,170)"/><rect x="145.68" y="197.4" width="1.04" height="53.0" fill="rgb(175,175,175)"/><rect x="146.72" y="197.6" width="1.04" height="52.8" fill="rgb(193,193,193)"/><rect x="147.76" y="197.8" width="1.04" height="52.6" fill="rgb(206,206,206)"/><rect x="148.79" y="198.0" width="1.04" height="52.4" fill="rgb(182,182,182)"/><rect x="149.83" y="198.2" width="1.04" height="52.2" fill="rgb(167,167,167)"/><rect x="150.87" y="198.5" width="1.04" height="51.9" fill="rgb(181,181,181)"/><rect x="151.91" y="198.8" width="1.04" height="51.6" fill="rgb(166,166,166)"/><rect x="152.95" y="199.1" width="1.04" height="51.3" fill="rgb(157,157,157)"/><rect x="153.99" y="199.4" width="1.04" height="51.0" fill="rgb(197,197,197)"/><rect x="155.03" y="199.7" width="1.04" height="50.7" fill="rgb(198,198,198)"/><rect x="156.07" y="200.1" width="1.04" height="50.3" fill="rgb(182,182,182)"/><rect x="157.11" y="200.5" width="1.04" height="49.9" fill="rgb(172,172,172)"/><rect x="158.15" y="200.9" width="1.04" height="49.5" fill="rgb(205,205,205)"/><rect x="159.18" y="201.6" width="1.04" height="48.8" fill="rgb(164,164,164)"/><rect x="160.22" y="202.4" width="1.04" height="48.0" fill="rgb(169,169,169)"/><rect x="161.26" y="203.7" width="1.04" height="46.7" fill="rgb(201,201,201)"/><rect x="162.30" y="205.2" width="1.04" height="45.2" fill="rgb(164,164,164)"/><rect x="163.34" y="206.0" width="1.04" height="44.4" fill="rgb(151,151,151)"/><rect x="164.38" y="206.5" width="1.04" height="43.9" fill="rgb(199,199,199)"/><rect x="165.42" y="207.0" width="1.04" height="43.4" fill="rgb(181,181,181)"/><rect x="166.46" y="207.5" width="1.04" height="42.9" fill="rgb(163,163,163)"/><rect x="167.50" y="208.1" width="1.04" height="42.3" fill="rgb(180,180,180)"/><rect x="168.54" y="208.6" width="1.04" height="41.8" fill="rgb(199,199,199)"/><rect x="169.58" y="209.1" width="1.04" height="41.3" fill="rgb(156,156,156)"/><rect x="170.61" y="209.8" width="1.04" height="40.6" fill="rgb(163,163,163)"/><rect x="171.65" y="210.5" width="1.04" height="39.9" fill="rgb(187,187,187)"/><rect x="172.69" y="211.2" width="1.04" height="39.2" fill="rgb(184,184,184)"/><rect x="173.73" y="211.7" width="1.04" height="38.7" fill="rgb(156,156,156)"/><rect x="174.77" y="212.2" width="1.04" height="38.2" fill="rgb(185,185,185)"/><rect x="175.81" y="212.8" width="1.04" height="37.6" fill="rgb(209,209,209)"/><rect x="176.85" y="213.2" width="1.04" height="37.2" fill="rgb(167,167,167)"/><rect x="177.89" y="213.7" width="1.04" height="36.7" fill="rgb(174,174,174)"/><rect x="178.93" y="214.2" width="1.04" height="36.2" fill="rgb(177,177,177)"/><rect x="179.97" y="214.6" width="1.04" height="35.8" fill="rgb(171,171,171)"/><rect x="181.00" y="215.1" width="1.04" height="35.3" fill="rgb(173,173,173)"/><rect x="182.04" y="217.5" width="1.04" height="32.9" fill="rgb(171,171,171)"/><rect x="183.08" y="219.1" width="1.04" height="31.3" fill="rgb(203,203,203)"/><rect x="184.12" y="219.1" width="1.04" height="31.3" fill="rgb(184,184,184)"/><rect x="185.16" y="225.2" width="1.04" height="25.2" fill="rgb(161,161,161)"/>
<line x1="32.0" y1="163.30" x2="186.2" y2="163.30" stroke="#4d4d4d" stroke-width="1" opacity="0.75"/>
<line x1="32.0" y1="180.45" x2="186.2" y2="180.45" stroke="#4d4d4d" stroke-width="1" opacity="0.75"/>
<line x1="32.0" y1="198.25" x2="186.2" y2="198.25" stroke="#4d4d4d" stroke-width="1" opacity="0.75"/>
<line x1="32.0" y1="215.45" x2="186.2" y2="215.45" stroke="#4d4d4d" stroke-width="1" opacity="0.75"/>
<line x1="32.0" y1="233.30" x2="186.2" y2="233.30" stroke="#4d4d4d" stroke-width="1" opacity="0.75"/>
<line x1="32.0" y1="250.40" x2="34.5" y2="250.40" stroke="#4d4d4d" stroke-width="1" opacity="0.72"/>
<line x1="34.5" y1="250.40" x2="186.2" y2="250.40" stroke="#4d4d4d" stroke-width="1" opacity="0.5"/>
<line x1="34.5" y1="162.8" x2="34.5" y2="250.9" stroke="#4d4d4d" stroke-width="1" opacity="0.75"/>
<text class="l" text-anchor="middle" transform="translate(13.2,203.5) rotate(-90)">S value</text>
</g>
<g>
<rect class="b" x="202.65" y="142.5" width="195.45" height="133.1"/>
<polygon fill="#b4b4b4" points="235.4,250.4 235.4,191.3 236.6,191.3 236.7,196.7 239.0,198.8 242.1,200.4 246.1,201.8 250.2,203.2 255.2,204.8 260.2,205.8 265.3,207.8 270.3,208.8 275.4,209.8 280.4,210.4 285.4,211.3 290.5,211.9 295.5,212.5 300.6,213.3 305.6,213.9 310.0,214.6 320.1,216.4 330.2,217.2 340.2,217.8 350.3,219.2 360.4,220.4 370.5,221.8 378.5,223.4 383.6,224.8 385.6,227.9 386.8,229.6 386.8,250.4"/>
<rect x="235.40" y="191.3" width="1.04" height="59.1" fill="rgb(198,198,198)"/><rect x="236.44" y="196.9" width="1.04" height="53.5" fill="rgb(162,162,162)"/><rect x="237.48" y="197.9" width="1.04" height="52.5" fill="rgb(195,195,195)"/><rect x="238.52" y="198.8" width="1.04" height="51.6" fill="rgb(199,199,199)"/><rect x="239.55" y="199.4" width="1.04" height="51.0" fill="rgb(161,161,161)"/><rect x="240.59" y="199.9" width="1.04" height="50.5" fill="rgb(182,182,182)"/><rect x="241.63" y="200.4" width="1.04" height="50.0" fill="rgb(198,198,198)"/><rect x="242.67" y="200.8" width="1.04" height="49.6" fill="rgb(188,188,188)"/><rect x="243.71" y="201.1" width="1.04" height="49.3" fill="rgb(159,159,159)"/><rect x="244.75" y="201.5" width="1.04" height="48.9" fill="rgb(198,198,198)"/><rect x="245.78" y="201.9" width="1.04" height="48.5" fill="rgb(203,203,203)"/><rect x="246.82" y="202.2" width="1.04" height="48.2" fill="rgb(173,173,173)"/><rect x="247.86" y="202.6" width="1.04" height="47.8" fill="rgb(181,181,181)"/><rect x="248.90" y="202.9" width="1.04" height="47.5" fill="rgb(177,177,177)"/><rect x="249.94" y="203.3" width="1.04" height="47.1" fill="rgb(172,172,172)"/><rect x="250.98" y="203.6" width="1.04" height="46.8" fill="rgb(166,166,166)"/><rect x="252.01" y="203.9" width="1.04" height="46.5" fill="rgb(200,200,200)"/><rect x="253.05" y="204.3" width="1.04" height="46.1" fill="rgb(188,188,188)"/><rect x="254.09" y="204.6" width="1.04" height="45.8" fill="rgb(169,169,169)"/><rect x="255.13" y="204.9" width="1.04" height="45.5" fill="rgb(173,173,173)"/><rect x="256.17" y="205.1" width="1.04" height="45.3" fill="rgb(195,195,195)"/><rect x="257.21" y="205.3" width="1.04" height="45.1" fill="rgb(174,174,174)"/><rect x="258.24" y="205.5" width="1.04" height="44.9" fill="rgb(163,163,163)"/><rect x="259.28" y="205.7" width="1.04" height="44.7" fill="rgb(207,207,207)"/><rect x="260.32" y="206.1" width="1.04" height="44.3" fill="rgb(182,182,182)"/><rect x="261.36" y="206.5" width="1.04" height="43.9" fill="rgb(154,154,154)"/><rect x="262.40" y="206.9" width="1.04" height="43.5" fill="rgb(205,205,205)"/><rect x="263.44" y="207.3" width="1.04" height="43.1" fill="rgb(172,172,172)"/><rect x="264.47" y="207.7" width="1.04" height="42.7" fill="rgb(160,160,160)"/><rect x="265.51" y="207.9" width="1.04" height="42.5" fill="rgb(188,188,188)"/><rect x="266.55" y="208.2" width="1.04" height="42.2" fill="rgb(196,196,196)"/><rect x="267.59" y="208.4" width="1.04" height="42.0" fill="rgb(174,174,174)"/><rect x="268.63" y="208.6" width="1.04" height="41.8" fill="rgb(177,177,177)"/><rect x="269.67" y="208.8" width="1.04" height="41.6" fill="rgb(190,190,190)"/><rect x="270.70" y="209.0" width="1.04" height="41.4" fill="rgb(174,174,174)"/><rect x="271.74" y="209.2" width="1.04" height="41.2" fill="rgb(154,154,154)"/><rect x="272.78" y="209.4" width="1.04" height="41.0" fill="rgb(168,168,168)"/><rect x="273.82" y="209.6" width="1.04" height="40.8" fill="rgb(198,198,198)"/><rect x="274.86" y="209.8" width="1.04" height="40.6" fill="rgb(178,178,178)"/><rect x="275.90" y="209.9" width="1.04" height="40.5" fill="rgb(177,177,177)"/><rect x="276.93" y="210.0" width="1.04" height="40.4" fill="rgb(202,202,202)"/><rect x="277.97" y="210.2" width="1.04" height="40.2" fill="rgb(171,171,171)"/><rect x="279.01" y="210.3" width="1.04" height="40.1" fill="rgb(159,159,159)"/><rect x="280.05" y="210.4" width="1.04" height="40.0" fill="rgb(184,184,184)"/><rect x="281.09" y="210.6" width="1.04" height="39.8" fill="rgb(200,200,200)"/><rect x="282.13" y="210.8" width="1.04" height="39.6" fill="rgb(149,149,149)"/><rect x="283.16" y="211.0" width="1.04" height="39.4" fill="rgb(180,180,180)"/><rect x="284.20" y="211.2" width="1.04" height="39.2" fill="rgb(182,182,182)"/><rect x="285.24" y="211.3" width="1.04" height="39.1" fill="rgb(182,182,182)"/><rect x="286.28" y="211.5" width="1.04" height="38.9" fill="rgb(166,166,166)"/><rect x="287.32" y="211.6" width="1.04" height="38.8" fill="rgb(185,185,185)"/><rect x="288.36" y="211.7" width="1.04" height="38.7" fill="rgb(178,178,178)"/><rect x="289.39" y="211.8" width="1.04" height="38.6" fill="rgb(168,168,168)"/><rect x="290.43" y="212.0" width="1.04" height="38.4" fill="rgb(195,195,195)"/><rect x="291.47" y="212.1" width="1.04" height="38.3" fill="rgb(184,184,184)"/><rect x="292.51" y="212.2" width="1.04" height="38.2" fill="rgb(182,182,182)"/><rect x="293.55" y="212.3" width="1.04" height="38.1" fill="rgb(161,161,161)"/><rect x="294.59" y="212.5" width="1.04" height="37.9" fill="rgb(184,184,184)"/><rect x="295.62" y="212.6" width="1.04" height="37.8" fill="rgb(161,161,161)"/><rect x="296.66" y="212.8" width="1.04" height="37.6" fill="rgb(153,153,153)"/><rect x="297.70" y="212.9" width="1.04" height="37.5" fill="rgb(199,199,199)"/><rect x="298.74" y="213.1" width="1.04" height="37.3" fill="rgb(194,194,194)"/><rect x="299.78" y="213.3" width="1.04" height="37.1" fill="rgb(155,155,155)"/><rect x="300.82" y="213.4" width="1.04" height="37.0" fill="rgb(168,168,168)"/><rect x="301.85" y="213.5" width="1.04" height="36.9" fill="rgb(189,189,189)"/><rect x="302.89" y="213.6" width="1.04" height="36.8" fill="rgb(181,181,181)"/><rect x="303.93" y="213.8" width="1.04" height="36.6" fill="rgb(183,183,183)"/><rect x="304.97" y="213.9" width="1.04" height="36.5" fill="rgb(201,201,201)"/><rect x="306.01" y="214.0" width="1.04" height="36.4" fill="rgb(185,185,185)"/><rect x="307.05" y="214.2" width="1.04" height="36.2" fill="rgb(153,153,153)"/><rect x="308.08" y="214.4" width="1.04" height="36.0" fill="rgb(181,181,181)"/><rect x="309.12" y="214.5" width="1.04" height="35.9" fill="rgb(178,178,178)"/><rect x="310.16" y="214.7" width="1.04" height="35.7" fill="rgb(170,170,170)"/><rect x="311.20" y="214.9" width="1.04" height="35.5" fill="rgb(178,178,178)"/><rect x="312.24" y="215.1" width="1.04" height="35.3" fill="rgb(181,181,181)"/><rect x="313.28" y="215.3" width="1.04" height="35.1" fill="rgb(167,167,167)"/><rect x="314.32" y="215.5" width="1.04" height="34.9" fill="rgb(179,179,179)"/><rect x="315.35" y="215.6" width="1.04" height="34.8" fill="rgb(171,171,171)"/><rect x="316.39" y="215.8" width="1.04" height="34.6" fill="rgb(197,197,197)"/><rect x="317.43" y="216.0" width="1.04" height="34.4" fill="rgb(182,182,182)"/><rect x="318.47" y="216.2" width="1.04" height="34.2" fill="rgb(197,197,197)"/><rect x="319.51" y="216.4" width="1.04" height="34.0" fill="rgb(187,187,187)"/><rect x="320.55" y="216.5" width="1.04" height="33.9" fill="rgb(174,174,174)"/><rect x="321.58" y="216.6" width="1.04" height="33.8" fill="rgb(174,174,174)"/><rect x="322.62" y="216.6" width="1.04" height="33.8" fill="rgb(196,196,196)"/><rect x="323.66" y="216.7" width="1.04" height="33.7" fill="rgb(199,199,199)"/><rect x="324.70" y="216.8" width="1.04" height="33.6" fill="rgb(174,174,174)"/><rect x="325.74" y="216.9" width="1.04" height="33.5" fill="rgb(177,177,177)"/><rect x="326.78" y="217.0" width="1.04" height="33.4" fill="rgb(203,203,203)"/><rect x="327.81" y="217.1" width="1.04" height="33.3" fill="rgb(168,168,168)"/><rect x="328.85" y="217.1" width="1.04" height="33.3" fill="rgb(179,179,179)"/><rect x="329.89" y="217.2" width="1.04" height="33.2" fill="rgb(201,201,201)"/><rect x="330.93" y="217.3" width="1.04" height="33.1" fill="rgb(158,158,158)"/><rect x="331.97" y="217.3" width="1.04" height="33.1" fill="rgb(178,178,178)"/><rect x="333.01" y="217.4" width="1.04" height="33.0" fill="rgb(195,195,195)"/><rect x="334.04" y="217.5" width="1.04" height="32.9" fill="rgb(186,186,186)"/><rect x="335.08" y="217.5" width="1.04" height="32.9" fill="rgb(168,168,168)"/><rect x="336.12" y="217.6" width="1.04" height="32.8" fill="rgb(179,179,179)"/><rect x="337.16" y="217.6" width="1.04" height="32.8" fill="rgb(180,180,180)"/><rect x="338.20" y="217.7" width="1.04" height="32.7" fill="rgb(173,173,173)"/><rect x="339.24" y="217.8" width="1.04" height="32.6" fill="rgb(154,154,154)"/><rect x="340.27" y="217.9" width="1.04" height="32.5" fill="rgb(191,191,191)"/><rect x="341.31" y="218.0" width="1.04" height="32.4" fill="rgb(187,187,187)"/><rect x="342.35" y="218.2" width="1.04" height="32.2" fill="rgb(164,164,164)"/><rect x="343.39" y="218.3" width="1.04" height="32.1" fill="rgb(187,187,187)"/><rect x="344.43" y="218.5" width="1.04" height="31.9" fill="rgb(207,207,207)"/><rect x="345.47" y="218.6" width="1.04" height="31.8" fill="rgb(184,184,184)"/><rect x="346.50" y="218.7" width="1.04" height="31.7" fill="rgb(161,161,161)"/><rect x="347.54" y="218.9" width="1.04" height="31.5" fill="rgb(204,204,204)"/><rect x="348.58" y="219.0" width="1.04" height="31.4" fill="rgb(181,181,181)"/><rect x="349.62" y="219.2" width="1.04" height="31.2" fill="rgb(151,151,151)"/><rect x="350.66" y="219.3" width="1.04" height="31.1" fill="rgb(183,183,183)"/><rect x="351.70" y="219.4" width="1.04" height="31.0" fill="rgb(176,176,176)"/><rect x="352.73" y="219.6" width="1.04" height="30.8" fill="rgb(151,151,151)"/><rect x="353.77" y="219.7" width="1.04" height="30.7" fill="rgb(182,182,182)"/><rect x="354.81" y="219.8" width="1.04" height="30.6" fill="rgb(208,208,208)"/><rect x="355.85" y="219.9" width="1.04" height="30.5" fill="rgb(165,165,165)"/><rect x="356.89" y="220.0" width="1.04" height="30.4" fill="rgb(185,185,185)"/><rect x="357.93" y="220.2" width="1.04" height="30.2" fill="rgb(199,199,199)"/><rect x="358.96" y="220.3" width="1.04" height="30.1" fill="rgb(167,167,167)"/><rect x="360.00" y="220.4" width="1.04" height="30.0" fill="rgb(180,180,180)"/><rect x="361.04" y="220.6" width="1.04" height="29.8" fill="rgb(189,189,189)"/><rect x="362.08" y="220.7" width="1.04" height="29.7" fill="rgb(206,206,206)"/><rect x="363.12" y="220.8" width="1.04" height="29.6" fill="rgb(177,177,177)"/><rect x="364.16" y="221.0" width="1.04" height="29.4" fill="rgb(184,184,184)"/><rect x="365.19" y="221.1" width="1.04" height="29.3" fill="rgb(187,187,187)"/><rect x="366.23" y="221.3" width="1.04" height="29.1" fill="rgb(188,188,188)"/><rect x="367.27" y="221.4" width="1.04" height="29.0" fill="rgb(185,185,185)"/><rect x="368.31" y="221.6" width="1.04" height="28.8" fill="rgb(202,202,202)"/><rect x="369.35" y="221.7" width="1.04" height="28.7" fill="rgb(183,183,183)"/><rect x="370.39" y="221.9" width="1.04" height="28.5" fill="rgb(177,177,177)"/><rect x="371.42" y="222.1" width="1.04" height="28.3" fill="rgb(179,179,179)"/><rect x="372.46" y="222.3" width="1.04" height="28.1" fill="rgb(177,177,177)"/><rect x="373.50" y="222.5" width="1.04" height="27.9" fill="rgb(155,155,155)"/><rect x="374.54" y="222.7" width="1.04" height="27.7" fill="rgb(155,155,155)"/><rect x="375.58" y="222.9" width="1.04" height="27.5" fill="rgb(180,180,180)"/><rect x="376.62" y="223.1" width="1.04" height="27.3" fill="rgb(168,168,168)"/><rect x="377.65" y="223.3" width="1.04" height="27.1" fill="rgb(167,167,167)"/><rect x="378.69" y="223.6" width="1.04" height="26.8" fill="rgb(192,192,192)"/><rect x="379.73" y="223.9" width="1.04" height="26.5" fill="rgb(191,191,191)"/><rect x="380.77" y="224.2" width="1.04" height="26.2" fill="rgb(166,166,166)"/><rect x="381.81" y="224.5" width="1.04" height="25.9" fill="rgb(181,181,181)"/><rect x="382.85" y="224.7" width="1.04" height="25.7" fill="rgb(185,185,185)"/><rect x="383.88" y="226.0" width="1.04" height="24.4" fill="rgb(175,175,175)"/><rect x="384.92" y="227.7" width="1.04" height="22.7" fill="rgb(178,178,178)"/><rect x="385.96" y="229.1" width="1.04" height="21.3" fill="rgb(185,185,185)"/>
<line x1="232.9" y1="163.10" x2="387.0" y2="163.10" stroke="#4d4d4d" stroke-width="1" opacity="0.75"/>
<line x1="232.9" y1="180.40" x2="387.0" y2="180.40" stroke="#4d4d4d" stroke-width="1" opacity="0.75"/>
<line x1="232.9" y1="198.25" x2="387.0" y2="198.25" stroke="#4d4d4d" stroke-width="1" opacity="0.75"/>
<line x1="232.9" y1="215.45" x2="387.0" y2="215.45" stroke="#4d4d4d" stroke-width="1" opacity="0.75"/>
<line x1="232.9" y1="233.10" x2="387.0" y2="233.10" stroke="#4d4d4d" stroke-width="1" opacity="0.75"/>
<line x1="232.9" y1="250.40" x2="235.4" y2="250.40" stroke="#4d4d4d" stroke-width="1" opacity="0.72"/>
<line x1="235.4" y1="250.40" x2="387.0" y2="250.40" stroke="#4d4d4d" stroke-width="1" opacity="0.5"/>
<line x1="235.4" y1="162.6" x2="235.4" y2="250.9" stroke="#4d4d4d" stroke-width="1" opacity="0.75"/>
<text class="l" text-anchor="middle" transform="translate(214.5,203.5) rotate(-90)">D value</text>
</g>
<g transform="matrix(1,0.0005,0,1,0,0)"><text class="l" text-anchor="end" x="26.45" y="27.89">32</text>
<text class="l" text-anchor="end" x="26.45" y="49.44">24</text>
<text class="l" text-anchor="end" x="26.45" y="70.99">16</text>
<text class="l" text-anchor="end" x="26.45" y="92.54">8</text>
<text class="l" text-anchor="end" x="26.45" y="114.09">0</text>
<text class="l" text-anchor="middle" x="34.3" y="122.08">1</text>
<text class="l" text-anchor="middle" x="55.2" y="122.07">21</text>
<text class="l" text-anchor="middle" x="76.0" y="122.06">41</text>
<text class="l" text-anchor="middle" x="96.9" y="122.05">61</text>
<text class="l" text-anchor="middle" x="117.7" y="122.04">81</text>
<text class="l" text-anchor="middle" x="138.6" y="122.03">101</text>
<text class="l" text-anchor="middle" x="159.5" y="122.02">121</text>
<text class="l" text-anchor="middle" x="180.3" y="122.01">141</text>
<text class="l" text-anchor="middle" x="103.0" y="132.75">Item number</text>
<text class="t" x="100.6" y="16.55">RPN distribution</text>
<text class="l" text-anchor="end" x="228.25" y="26.79">5</text>
<text class="l" text-anchor="end" x="228.25" y="44.11">4</text>
<text class="l" text-anchor="end" x="228.25" y="61.43">3</text>
<text class="l" text-anchor="end" x="228.25" y="78.75">2</text>
<text class="l" text-anchor="end" x="228.25" y="96.07">1</text>
<text class="l" text-anchor="end" x="228.25" y="113.39">0</text>
<text class="l" text-anchor="middle" x="236.0" y="123.28">1</text>
<text class="l" text-anchor="middle" x="256.7" y="123.27">21</text>
<text class="l" text-anchor="middle" x="277.4" y="123.26">41</text>
<text class="l" text-anchor="middle" x="298.2" y="123.25">61</text>
<text class="l" text-anchor="middle" x="318.9" y="123.24">81</text>
<text class="l" text-anchor="middle" x="339.6" y="123.23">101</text>
<text class="l" text-anchor="middle" x="360.3" y="123.22">121</text>
<text class="l" text-anchor="middle" x="381.0" y="123.21">141</text>
<text class="l" text-anchor="middle" x="304" y="131.95">item number</text>
<text class="t" x="303.3" y="16.65">Occurrence distribution</text>
<text class="l" text-anchor="end" x="27.5" y="166.19">5</text>
<text class="l" text-anchor="end" x="27.5" y="183.34">4</text>
<text class="l" text-anchor="end" x="27.5" y="201.14">3</text>
<text class="l" text-anchor="end" x="27.5" y="218.34">2</text>
<text class="l" text-anchor="end" x="27.5" y="236.19">1</text>
<text class="l" text-anchor="end" x="27.5" y="253.29">0</text>
<text class="l" text-anchor="middle" x="35.0" y="263.48">1</text>
<text class="l" text-anchor="middle" x="55.9" y="263.47">21</text>
<text class="l" text-anchor="middle" x="76.7" y="263.46">41</text>
<text class="l" text-anchor="middle" x="97.6" y="263.45">61</text>
<text class="l" text-anchor="middle" x="118.4" y="263.44">81</text>
<text class="l" text-anchor="middle" x="139.3" y="263.43">101</text>
<text class="l" text-anchor="middle" x="160.2" y="263.42">121</text>
<text class="l" text-anchor="middle" x="181.0" y="263.41">141</text>
<text class="l" text-anchor="middle" x="103" y="272.55">item number</text>
<text class="t" x="99.0" y="155.55">Severity distribution</text>
<text class="l" text-anchor="end" x="228.1" y="165.89">5</text>
<text class="l" text-anchor="end" x="228.1" y="183.19">4</text>
<text class="l" text-anchor="end" x="228.1" y="201.04">3</text>
<text class="l" text-anchor="end" x="228.1" y="218.24">2</text>
<text class="l" text-anchor="end" x="228.1" y="235.89">1</text>
<text class="l" text-anchor="end" x="228.1" y="253.19">0</text>
<text class="l" text-anchor="middle" x="235.8" y="263.38">1</text>
<text class="l" text-anchor="middle" x="256.7" y="263.37">21</text>
<text class="l" text-anchor="middle" x="277.5" y="263.36">41</text>
<text class="l" text-anchor="middle" x="298.4" y="263.35">61</text>
<text class="l" text-anchor="middle" x="319.2" y="263.34">81</text>
<text class="l" text-anchor="middle" x="340.1" y="263.33">101</text>
<text class="l" text-anchor="middle" x="361.0" y="263.32">121</text>
<text class="l" text-anchor="middle" x="381.8" y="263.31">141</text>
<text class="l" text-anchor="middle" x="303.6" y="272.45">item number</text>
<text class="t" x="301.2" y="156.25">Detection distribution</text></g>
</svg></body></html>
